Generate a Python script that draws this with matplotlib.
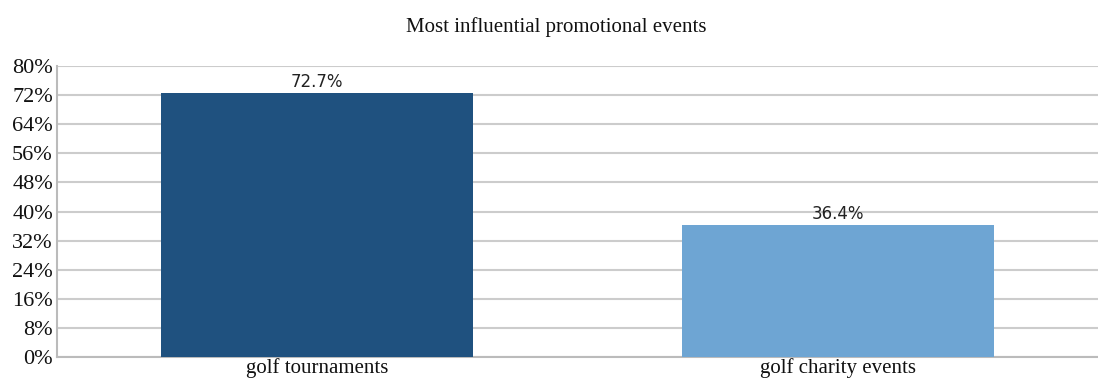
import matplotlib.pyplot as plt
from matplotlib.ticker import FuncFormatter

categories = ['golf tournaments', 'golf charity events']
shares = [72.7, 36.4]
bar_colors = ['#1f517f', '#6ea5d3']
y_ticks = [0, 8, 16, 24, 32, 40, 48, 56, 64, 72, 80]

fig = plt.figure(figsize=(10.98, 3.86), dpi=100)
ax = fig.add_axes([0.052, 0.075, 0.948, 0.754])

x = range(len(categories))
bars = ax.bar(x, shares, width=0.6, color=bar_colors, zorder=3)

for bar, val in zip(bars, shares):
    ax.text(bar.get_x() + bar.get_width() / 2, val + 0.4, f'{val:.1f}%',
            ha='center', va='bottom', fontsize=12, family='DejaVu Sans',
            color='#222222', zorder=4)

ax.set_xlim(-0.5, len(categories) - 0.5)
ax.set_ylim(0, 80)
ax.set_yticks(y_ticks)
ax.yaxis.set_major_formatter(FuncFormatter(lambda v, p: f'{v:.0f}%'))
ax.set_xticks(list(x))
ax.set_xticklabels(categories)

for lbl in ax.get_yticklabels():
    lbl.set_fontfamily('Liberation Serif')
    lbl.set_fontsize(16)
    lbl.set_color('#111111')
for lbl in ax.get_xticklabels():
    lbl.set_fontfamily('Liberation Serif')
    lbl.set_fontsize(15)
    lbl.set_color('#111111')

ax.tick_params(axis='y', length=0, pad=3)
ax.tick_params(axis='x', length=0, pad=1)
ax.grid(axis='y', color='#cccccc', linewidth=1.5, zorder=0)

for side in ['top', 'right']:
    ax.spines[side].set_visible(False)
for side in ['left', 'bottom']:
    ax.spines[side].set_color('#bbbbbb')
    ax.spines[side].set_linewidth(1.5)

fig.suptitle('Most influential promotional events', x=0.507, y=0.955,
             fontfamily='Liberation Serif', fontsize=15, color='#111111')

fig.savefig('out.png', dpi=100, facecolor='white')
